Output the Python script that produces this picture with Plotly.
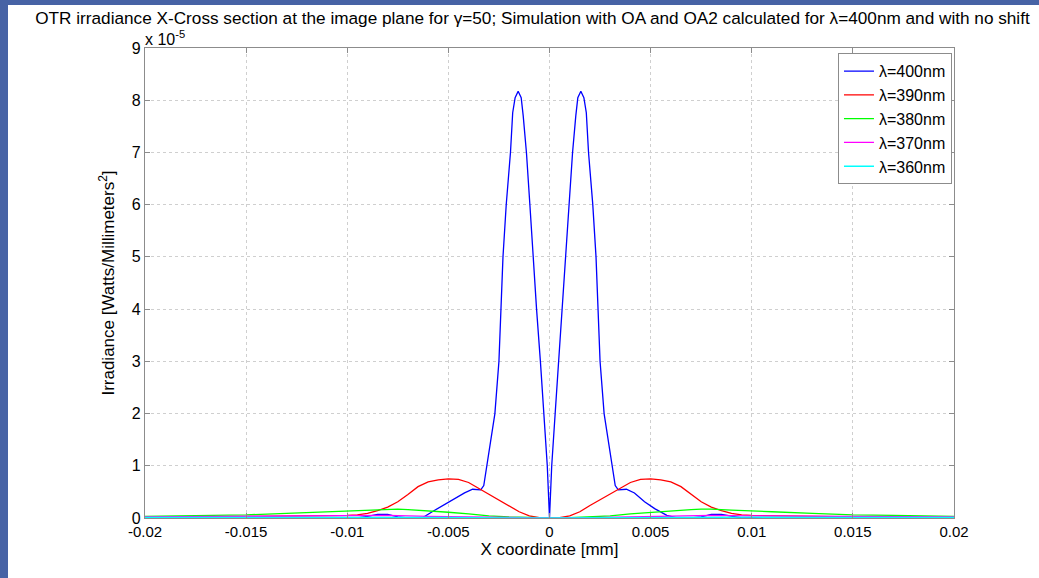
import plotly.graph_objects as go

# ---- data (irradiance in units of 1e-5 W/mm^2), x in mm ----
blue_x = [-0.02, -0.012, -0.0095, -0.009, -0.0085, -0.008, -0.0075, -0.007, -0.0063,
          -0.0058, -0.0052, -0.0047, -0.0042, -0.0038, -0.0034, -0.00325, -0.0031,
          -0.0029, -0.0027, -0.0025, -0.0024, -0.0023, -0.00214, -0.00193, -0.00182,
          -0.0017, -0.00155, -0.0014, -0.0013, -0.00114, -0.00097, -0.00081, -0.00064,
          -0.00045, -0.00028, -0.00011, 0.0,
          0.00011, 0.00028, 0.00045, 0.00064, 0.00081, 0.00097, 0.00114, 0.0013,
          0.0014, 0.00155, 0.0017, 0.00182, 0.00193, 0.00214, 0.0023, 0.0024, 0.0025,
          0.0027, 0.0029, 0.0031, 0.00325, 0.0034, 0.0038, 0.0042, 0.0047, 0.0052,
          0.0058, 0.0063, 0.007, 0.0075, 0.008, 0.0085, 0.009, 0.0095, 0.012, 0.02]
blue_y = [0.0, 0.0, 0.0, 0.03, 0.07, 0.07, 0.02, 0.0, 0.0,
          0.12, 0.25, 0.36, 0.48, 0.55, 0.54, 0.62, 1.0,
          1.5, 2.0, 3.0, 4.0, 5.0, 6.0, 7.0, 7.76,
          8.05, 8.17, 8.05, 7.7, 7.0, 6.0, 5.0, 4.0,
          3.0, 2.0, 1.0, 0.0,
          1.0, 2.0, 3.0, 4.0, 5.0, 6.0, 7.0, 7.7,
          8.05, 8.17, 8.05, 7.76, 7.0, 6.0, 5.0, 4.0, 3.0,
          2.0, 1.5, 1.0, 0.62, 0.54, 0.55, 0.48, 0.31, 0.18,
          0.05, 0.0, 0.0, 0.02, 0.07, 0.07, 0.03, 0.0, 0.0, 0.0]

red_x = [-0.02, -0.015, -0.012, -0.01, -0.0095, -0.009, -0.0085, -0.008, -0.0075,
         -0.007, -0.0065, -0.006, -0.0055, -0.005, -0.0045, -0.004, -0.0035, -0.003,
         -0.0025, -0.002, -0.0015, -0.001, -0.0005, 0.0,
         0.0005, 0.001, 0.0015, 0.002, 0.0025, 0.003, 0.0035, 0.004, 0.0045, 0.005,
         0.0055, 0.006, 0.0065, 0.007, 0.0075, 0.008, 0.0085, 0.009, 0.0095, 0.01,
         0.012, 0.015, 0.02]
red_y = [0.01, 0.02, 0.04, 0.05, 0.06, 0.09, 0.14, 0.21, 0.31,
         0.45, 0.60, 0.69, 0.73, 0.75, 0.74, 0.68, 0.57, 0.46,
         0.35, 0.24, 0.12, 0.04, 0.005, 0.0,
         0.005, 0.04, 0.12, 0.24, 0.35, 0.46, 0.57, 0.68, 0.74, 0.75,
         0.73, 0.69, 0.60, 0.45, 0.31, 0.21, 0.14, 0.09, 0.06, 0.05,
         0.04, 0.02, 0.01]

green_x = [-0.02, -0.017, -0.015, -0.013, -0.011, -0.01, -0.009, -0.008, -0.0075,
           -0.007, -0.006, -0.005, -0.004, -0.003, -0.002, -0.001, 0.0,
           0.001, 0.002, 0.003, 0.004, 0.005, 0.006, 0.007, 0.0075, 0.008, 0.009,
           0.01, 0.011, 0.013, 0.015, 0.017, 0.02]
green_y = [0.03, 0.05, 0.06, 0.09, 0.12, 0.14, 0.15, 0.17, 0.17,
           0.16, 0.14, 0.11, 0.08, 0.04, 0.02, 0.005, 0.0,
           0.005, 0.02, 0.04, 0.08, 0.11, 0.14, 0.16, 0.17, 0.17, 0.15,
           0.14, 0.12, 0.09, 0.06, 0.05, 0.03]

magenta_x = [-0.02, -0.015, -0.012, -0.01, -0.008, -0.006, -0.004, -0.002, 0.0,
             0.002, 0.004, 0.006, 0.008, 0.01, 0.012, 0.015, 0.02]
magenta_y = [0.02, 0.03, 0.04, 0.04, 0.05, 0.03, 0.02, 0.005, 0.0,
             0.005, 0.02, 0.03, 0.05, 0.04, 0.04, 0.03, 0.02]

cyan_x = [-0.02, -0.015, -0.01, -0.005, 0.0, 0.005, 0.01, 0.015, 0.02]
cyan_y = [0.01, 0.012, 0.015, 0.01, 0.0, 0.01, 0.015, 0.012, 0.01]

series = [
    ("λ=400nm", blue_x, blue_y, "#0000ff"),
    ("λ=390nm", red_x, red_y, "#ff0000"),
    ("λ=380nm", green_x, green_y, "#00ff00"),
    ("λ=370nm", magenta_x, magenta_y, "#ff00ff"),
    ("λ=360nm", cyan_x, cyan_y, "#00ffff"),
]

x_ticks = [-0.02, -0.015, -0.01, -0.005, 0, 0.005, 0.01, 0.015, 0.02]
x_tick_labels = ["-0.02", "-0.015", "-0.01", "-0.005", "0", "0.005", "0.01", "0.015", "0.02"]
y_ticks = [0, 1, 2, 3, 4, 5, 6, 7, 8, 9]

FONT = "Liberation Sans, Arial, sans-serif"

fig = go.Figure()
for name, xs, ys, col in series:
    fig.add_trace(go.Scatter(x=xs, y=ys, mode="lines", name=name,
                             line=dict(color=col, width=1.3)))

W, H = 1039, 578
L, R, T, B = 145, 85, 48, 60
pw, ph = W - L - R, H - T - B

axis_common = dict(showline=True, linecolor="#8c8c8c", linewidth=1.2, mirror="ticks",
                   ticks="inside", ticklen=5, tickcolor="#8c8c8c",
                   showgrid=True, gridcolor="#cfcfcf", griddash="dot", gridwidth=1,
                   zeroline=False)

fig.update_layout(
    width=W, height=H,
    margin=dict(l=L, r=R, t=T, b=B),
    paper_bgcolor="white", plot_bgcolor="white",
    font=dict(family=FONT, color="black"),
    title=dict(text="OTR irradiance X-Cross section at the image plane for γ=50; Simulation with OA and OA2 calculated for λ=400nm and with no shift",
               x=0.5125, xanchor="center", y=0.969, yanchor="middle",
               font=dict(family=FONT, size=17.2, color="black")),
    xaxis=dict(range=[-0.02, 0.02], tickvals=x_ticks, ticktext=x_tick_labels,
               tickfont=dict(family=FONT, size=15, color="black"),
               title=dict(text="X coordinate [mm]", font=dict(family=FONT, size=17), standoff=0),
               **axis_common),
    yaxis=dict(range=[0, 9], tickvals=y_ticks,
               tickfont=dict(family=FONT, size=16, color="black"),
               title=dict(text="Irradiance [Watts/Millimeters<sup>2</sup>]", font=dict(family=FONT, size=17), standoff=12),
               **axis_common),
    legend=dict(x=0.9975, xanchor="right", y=0.989, yanchor="top",
                bgcolor="white", bordercolor="#8c8c8c", borderwidth=1,
                font=dict(family=FONT, size=16), tracegroupgap=0,
                itemwidth=30),
    showlegend=True,
)

# exponent label
fig.add_annotation(xref="paper", yref="paper", x=0.0, y=1.0, xanchor="left", yanchor="bottom",
                   text="x 10<sup>-5</sup>", showarrow=False, xshift=-2, yshift=-2,
                   font=dict(family=FONT, size=16, color="black"))

# slide-frame border (left strip and top band)
top_edge = (H - B) / ph
fig.add_shape(type="rect", xref="paper", yref="paper",
              x0=-L / pw - 0.01, x1=(8 - L) / pw, y0=-B / ph - 0.01, y1=top_edge + 0.01,
              fillcolor="#4763a5", line=dict(width=0), layer="below")
fig.add_shape(type="rect", xref="paper", yref="paper",
              x0=-L / pw - 0.01, x1=(W - L) / pw + 0.01, y0=(H - B - 5) / ph, y1=top_edge + 0.01,
              fillcolor="#4763a5", line=dict(width=0), layer="below")

fig.write_html("out.html")
